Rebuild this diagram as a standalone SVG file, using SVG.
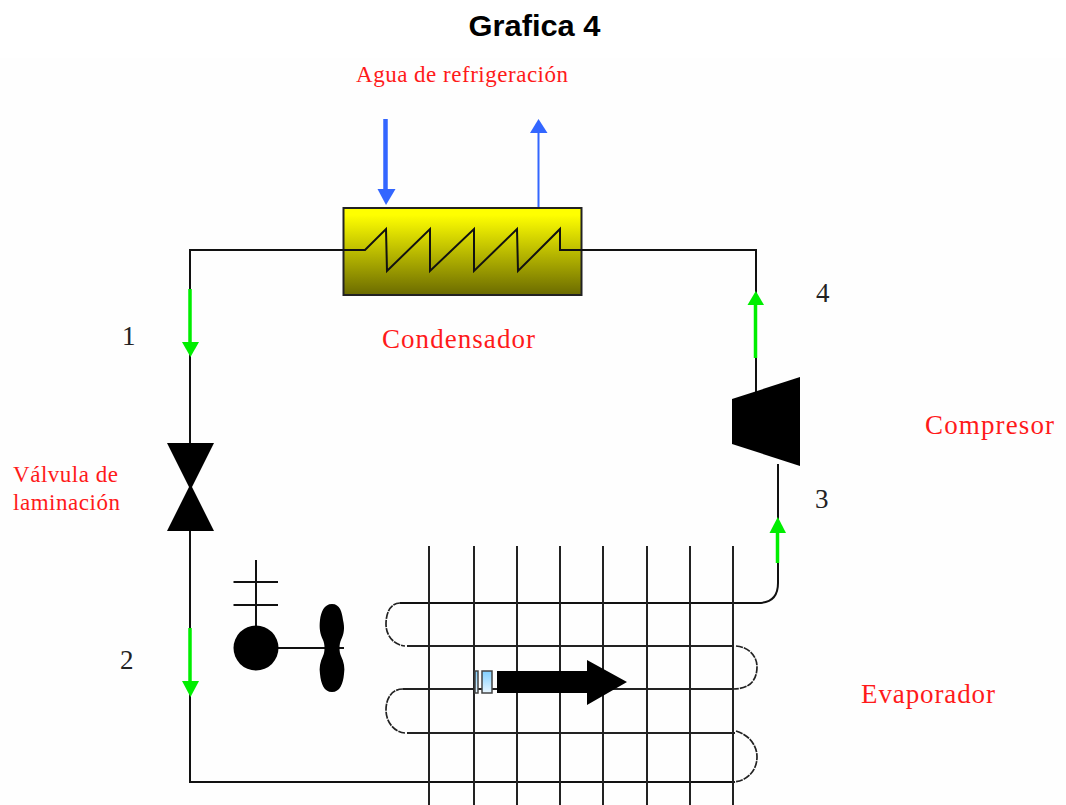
<svg xmlns="http://www.w3.org/2000/svg" width="1066" height="805" viewBox="0 0 1066 805">
<style>
.title{font:bold 30px "Liberation Sans",Arial,sans-serif;fill:#000}
.red{font-family:"Liberation Serif","Times New Roman",serif;fill:#ff1a1a}
.num{font:27px "Liberation Serif","Times New Roman",serif;fill:#222}
.pipe{fill:none;stroke:#111;stroke-width:2}
.grid{fill:none;stroke:#222;stroke-width:2}
.loop{fill:none;stroke:#222;stroke-width:1.700;stroke-dasharray:7 1}
.green{fill:none;stroke:#00ee00;stroke-width:3.500}
.gh{fill:#00ee00}
.blue{fill:none;stroke:#3366ff}
.bh{fill:#3366ff}
.k{fill:#000}
.small{fill:url(#lb);stroke:#444;stroke-width:1.500}
</style>
<defs>
<linearGradient id="cond" x1="0" y1="0" x2="0" y2="1"><stop offset="0.08" stop-color="#ffff00"/><stop offset="1" stop-color="#6b6b00"/></linearGradient>
<linearGradient id="lb" x1="0" y1="0" x2="0" y2="1"><stop offset="0" stop-color="#7fcfff"/><stop offset="1" stop-color="#eaf7ff"/></linearGradient>
</defs>
<rect width="1066" height="805" fill="#fff"/>
<rect y="58" width="1066" height="747" fill="#fefefe"/>
<text class="title" x="534.500" y="36" text-anchor="middle" textLength="132" lengthAdjust="spacingAndGlyphs">Grafica 4</text>
<g id="connectors">
<path class="pipe" d="M343 250H190V443"/>
<path class="pipe" d="M190 531V782H735"/>
<path class="pipe" d="M581 250H756V392"/>
<path class="pipe" d="M778 464V583Q778 603 758 603H400"/>
<path class="green" d="M190 289V345"/><path class="gh" d="M182 342H199L190.500 357Z"/>
<path class="green" d="M190 628V684"/><path class="gh" d="M182 681H199L190.500 697Z"/>
<path class="green" d="M755.500 303V358"/><path class="gh" d="M747.500 305H764L755.800 291Z"/>
<path class="green" d="M777.500 531V563"/><path class="gh" d="M769.500 533H786L777.800 517Z"/>
<path class="blue" stroke-width="4.500" d="M385.500 119V192"/><path class="bh" d="M377.500 189H395.500L386 205Z"/>
<path class="blue" stroke-width="2" d="M538.500 208V131"/><path class="bh" d="M530 133H547.500L538.500 119Z"/>
</g>
<g id="condensador">
<rect x="343.500" y="208" width="238" height="87" fill="url(#cond)" stroke="#222" stroke-width="2"/>
<path class="pipe" d="M330 250H365L386 229L387 271L430 229V271L474 229V271L517 229L518 271L560 229V250H594"/>
</g>
<g id="valvula"><path class="k" d="M167 443H214L192 487L214 531H167L189 487Z"/></g>
<g id="compresor"><path class="k" d="M732 399L800 377V466L732 444Z"/></g>
<g id="ventilador">
<path class="pipe" d="M256 560V630M233.500 582H278M233.500 605H278M278 648H344"/>
<circle class="k" cx="256" cy="648" r="22.500"/>
<path class="k" d="M332 604C340 604 342 612 343 620C345 628 344 634 341 640C339 644 339 652 341 656C344 662 345 668 344 674C343 684 340 692 332 692C324 692 321 684 320 674C319 668 320 662 323 656C325 652 325 644 323 640C320 634 319 628 320 620C321 612 324 604 332 604Z"/>
</g>
<g id="evaporador">
<path class="grid" d="M429 546V805M474 546V805M517 546V805M560 546V805M603 546V805M647 546V805M690 546V805M733 546V805"/>
<path class="grid" d="M407 646H733M403 689H733M407 733H735"/>
<path class="loop" d="M400 603C391 603 386 612 386 624C386 636 394 645 405 646"/>
<path class="loop" d="M403 689C392 689 386 698 386 710C386 722 394 732 405 733"/>
<path class="loop" d="M736 646C748 647 757 655 757 667C757 680 750 689 733 689"/>
<path class="loop" d="M736 731C749 735 757 745 757 757C757 770 748 781 733 782"/>
<rect class="small" x="475" y="671" width="3" height="22"/>
<rect class="small" x="482" y="671" width="10" height="22"/>
<path class="k" d="M497 671H587V660L627 682L587 705V693H497Z"/>
</g>
<text class="red" x="356" y="82" style="font-size:23px" textLength="212">Agua de refrigeración</text>
<text class="red" x="382" y="348" style="font-size:27px" textLength="153">Condensador</text>
<text class="red" x="925" y="434" style="font-size:27px" textLength="129">Compresor</text>
<text class="red" x="861" y="703" style="font-size:27px" textLength="134">Evaporador</text>
<text class="red" x="13" y="482" style="font-size:23px" textLength="105">Válvula de</text>
<text class="red" x="13" y="510" style="font-size:23px" textLength="107">laminación</text>
<text class="num" x="122" y="345">1</text>
<text class="num" x="120" y="669">2</text>
<text class="num" x="815" y="508">3</text>
<text class="num" x="816" y="302">4</text>
</svg>
